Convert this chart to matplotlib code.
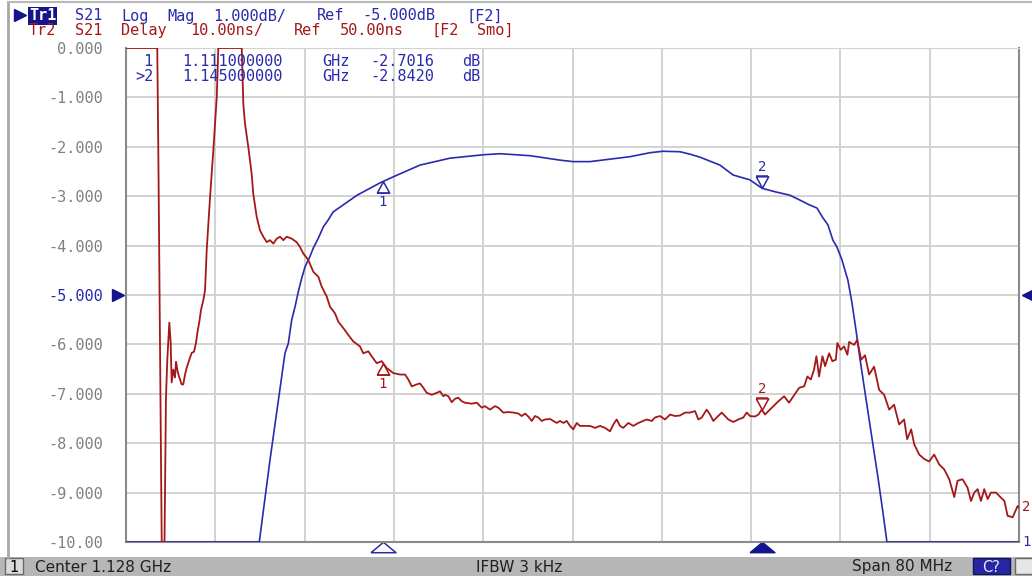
import numpy as np
import matplotlib
matplotlib.use('Agg')
import matplotlib.pyplot as plt
from matplotlib.lines import Line2D
from matplotlib.patches import Rectangle
import matplotlib.transforms as mtransforms

# ---- data (frequency in MHz) ----
# Tr1: S21 Log Mag [dB]
blue_freq = [1088.00, 1099.94, 1100.90, 1101.95, 1102.24, 1102.54, 1102.84, 1103.14, 1103.44, 1103.74,
             1104.04, 1104.48, 1104.78, 1105.23, 1105.68, 1106.12, 1106.55, 1108.70, 1110.76, 1111.92,
             1114.34, 1117.03, 1120.07, 1121.51, 1124.19, 1126.88, 1128.05, 1129.57, 1131.36, 1133.15,
             1134.94, 1136.11, 1137.63, 1138.53, 1139.42, 1141.21, 1142.38, 1143.90, 1144.98, 1146.14,
             1147.48, 1148.38, 1149.27, 1149.90, 1150.44, 1150.88, 1151.33, 1151.69, 1152.14, 1152.67,
             1153.03, 1153.39, 1153.76, 1154.29, 1154.83, 1155.37, 1155.81, 1156.17, 1168.00]
blue_db = [-10.0, -10.0, -8.34, -6.65, -6.18, -5.98, -5.51, -5.24, -4.93, -4.66,
           -4.43, -4.22, -4.05, -3.85, -3.62, -3.48, -3.32, -2.98, -2.73, -2.61,
           -2.37, -2.23, -2.16, -2.14, -2.18, -2.27, -2.30, -2.30, -2.25, -2.20,
           -2.12, -2.09, -2.10, -2.15, -2.21, -2.37, -2.57, -2.67, -2.84, -2.91,
           -2.98, -3.08, -3.18, -3.24, -3.44, -3.58, -3.89, -4.03, -4.29, -4.70,
           -5.15, -5.70, -6.30, -7.10, -7.90, -8.70, -9.40, -10.0, -10.0]

# Tr2: S21 Delay [ns] (screen clips at 0 and 100 ns)
red_freq = [1088.00, 1090.80, 1090.90, 1091.05, 1091.20, 1091.45, 1091.58, 1091.70, 1091.88, 1092.00,
            1092.09, 1092.24, 1092.39, 1092.48, 1092.63, 1092.78, 1092.99, 1093.13, 1093.29, 1093.44,
            1093.67, 1093.89, 1094.09, 1094.27, 1094.39, 1094.57, 1094.72, 1094.93, 1095.08, 1095.23,
            1095.53, 1095.82, 1096.13, 1096.27, 1098.37, 1098.51, 1098.66, 1098.96, 1099.26, 1099.40,
            1099.71, 1100.00, 1100.30, 1100.61, 1100.90, 1101.20, 1101.50, 1101.80, 1102.09, 1102.40,
            1102.84, 1103.29, 1103.59, 1103.88, 1104.33, 1104.78, 1105.23, 1105.53, 1105.98, 1106.28,
            1106.72, 1107.02, 1107.47, 1107.92, 1108.36, 1108.96, 1109.26, 1109.71, 1110.01, 1110.46,
            1110.91, 1111.36, 1111.95, 1112.55, 1113.00, 1113.29, 1113.60, 1114.04, 1114.34, 1114.64,
            1114.94, 1115.39, 1115.84, 1116.13, 1116.43, 1116.58, 1116.88, 1117.18, 1117.48, 1117.77,
            1118.07, 1118.37, 1118.97, 1119.42, 1119.87, 1120.16, 1120.61, 1121.06, 1121.35, 1121.80,
            1122.25, 1122.70, 1123.15, 1123.45, 1123.75, 1124.04, 1124.35, 1124.64, 1124.94, 1125.24,
            1125.54, 1125.99, 1126.28, 1126.59, 1126.88, 1127.18, 1127.48, 1127.78, 1128.07, 1128.38,
            1128.67, 1129.12, 1129.57, 1130.02, 1130.46, 1130.91, 1131.36, 1131.66, 1131.96, 1132.26,
            1132.55, 1133.00, 1133.45, 1133.90, 1134.34, 1134.65, 1135.10, 1135.39, 1135.84, 1136.29,
            1136.74, 1137.18, 1137.63, 1138.08, 1138.53, 1138.98, 1139.27, 1139.58, 1140.02, 1140.32,
            1140.62, 1140.92, 1141.37, 1141.66, 1141.96, 1142.41, 1142.86, 1143.30, 1143.61, 1143.90,
            1144.35, 1144.65, 1144.95, 1145.25, 1145.55, 1146.00, 1146.45, 1146.96, 1147.40, 1148.00,
            1148.30, 1148.75, 1149.04, 1149.35, 1149.64, 1149.85, 1150.09, 1150.39, 1150.63, 1150.99,
            1151.28, 1151.59, 1151.73, 1152.03, 1152.33, 1152.63, 1152.78, 1153.23, 1153.50, 1153.86,
            1154.21, 1154.57, 1155.02, 1155.47, 1155.92, 1156.37, 1156.81, 1157.26, 1157.71, 1157.98,
            1158.34, 1158.61, 1159.06, 1159.51, 1159.95, 1160.40, 1160.85, 1161.30, 1161.75, 1162.20,
            1162.49, 1162.94, 1163.39, 1163.70, 1163.99, 1164.29, 1164.59, 1164.89, 1165.19, 1165.49,
            1165.94, 1166.24, 1166.69, 1166.98, 1167.43, 1167.88, 1168.00]
red_ns = [100, 100, 78.0, 40.0, 0, 0, 29.2, 36.9, 44.4, 40.5,
          32.3, 34.9, 33.3, 36.5, 34.5, 33.3, 31.9, 31.9, 33.9, 35.3,
          36.9, 38.3, 38.5, 40.3, 42.3, 44.6, 47.0, 49.0, 51.0, 59.1,
          69.8, 79.2, 90.0, 100, 100, 88.7, 84.7, 79.9, 74.5, 70.5,
          65.8, 63.1, 61.8, 60.7, 61.1, 60.4, 61.4, 61.8, 61.1, 61.8,
          61.4, 60.7, 59.7, 58.4, 57.1, 54.7, 53.7, 51.7, 49.7, 47.6,
          46.3, 44.6, 43.3, 41.9, 40.6, 39.6, 38.2, 38.6, 37.6, 36.2,
          36.6, 35.2, 34.2, 33.9, 33.9, 32.9, 31.5, 31.9, 32.1, 31.2,
          30.2, 29.8, 30.2, 30.5, 29.5, 29.8, 29.5, 28.3, 29.0, 29.2,
          28.5, 28.2, 28.0, 28.2, 27.2, 27.5, 26.8, 27.5, 27.2, 26.2,
          26.3, 26.2, 26.0, 25.5, 26.0, 25.4, 24.5, 25.5, 25.2, 24.5,
          24.8, 24.9, 24.5, 24.1, 24.5, 24.1, 24.5, 23.5, 22.8, 24.1,
          23.5, 23.5, 23.5, 23.1, 23.5, 23.1, 22.4, 23.8, 24.8, 23.5,
          23.1, 24.1, 23.5, 24.1, 24.5, 24.8, 24.5, 25.2, 25.5, 24.8,
          25.8, 25.5, 25.6, 26.2, 26.2, 26.5, 24.8, 25.2, 26.8, 25.8,
          24.5, 25.2, 26.2, 25.5, 24.8, 24.3, 24.8, 25.2, 26.2, 25.5,
          25.4, 25.8, 26.8, 25.8, 26.5, 27.5, 28.5, 29.5, 28.2, 30.2,
          31.2, 31.5, 33.5, 32.9, 34.9, 37.6, 33.5, 37.6, 35.6, 38.2,
          36.6, 36.9, 40.3, 38.9, 39.6, 37.9, 40.5, 39.9, 40.9, 36.9,
          37.8, 33.9, 35.5, 30.8, 29.8, 26.8, 27.8, 23.8, 24.8, 20.8,
          22.8, 19.8, 17.7, 16.8, 16.3, 17.7, 15.7, 14.7, 12.7, 9.1,
          12.4, 12.7, 11.0, 8.3, 10.0, 10.7, 8.3, 10.7, 8.7, 10.0,
          10.0, 9.3, 8.3, 5.3, 5.0, 7.3, 7.0]

marker_freq = [1111.0, 1145.0]
marker_db = [-2.7016, -2.8420]

center_mhz = 1128
span_mhz = 80
ytick_vals = [0, -1, -2, -3, -4, -5, -6, -7, -8, -9, -10]
ytick_labels = ['0.000', '-1.000', '-2.000', '-3.000', '-4.000', '-5.000',
                '-6.000', '-7.000', '-8.000', '-9.000', '-10.00']

W, H = 1032, 577
BLUE = '#2a2aae'
NAVY = '#14148c'
RED = '#a51818'
GRAY = '#808080'
MONO = 'DejaVu Sans Mono'


def px(x, y):
    return x / W, 1 - y / H


fig = plt.figure(figsize=(W / 100, H / 100), dpi=100)
fig.patch.set_facecolor('white')

ax = fig.add_axes([126 / W, 35 / H, 893 / W, 494 / H])
ax.set_xlim(center_mhz - span_mhz / 2, center_mhz + span_mhz / 2)
ax.set_ylim(-10, 0)
ax.set_xticks(np.linspace(center_mhz - span_mhz / 2, center_mhz + span_mhz / 2, 11))
ax.set_yticks(ytick_vals)
ax.set_yticklabels(ytick_labels, family=MONO, fontsize=11, color=GRAY)
ax.get_yticklabels()[5].set_color(BLUE)
ax.tick_params(axis='both', length=0, labelbottom=False, pad=16.5)
ax.grid(True, color='#d2d2d2', lw=1.4)
ax.set_axisbelow(True)
for side in ['left', 'bottom', 'right']:
    ax.spines[side].set_color('#8a8a8a')
    ax.spines[side].set_linewidth(1.5)
ax.spines['top'].set_color('#d2d2d2')

ax2 = ax.twinx()
ax2.set_ylim(0, 100)
ax2.set_axis_off()

ax.plot(blue_freq, blue_db, color=BLUE, lw=1.2, zorder=3)
ax2.plot(red_freq, red_ns, color=RED, lw=1.3)

# markers
red_marker = np.interp(marker_freq, red_freq, red_ns)
tri_up = [(-0.55, -0.5), (0.55, -0.5), (0, 0.5), (-0.55, -0.5)]
tri_dn = [(-0.55, 0.5), (0.55, 0.5), (0, -0.5), (-0.55, 0.5)]


def draw_marker(axis, x, y, label, color, below):
    sgn = -1 if below else 1
    off = mtransforms.offset_copy(axis.transData, fig=fig, x=0, y=sgn * 6, units='dots')
    off2 = mtransforms.offset_copy(axis.transData, fig=fig, x=0, y=sgn * 12, units='dots')
    axis.plot([x], [y], marker=tri_up if below else tri_dn, ms=9, mfc='none', mec=color,
              mew=1.1, transform=off, clip_on=False, zorder=5)
    axis.plot([x], [y], marker='_', ms=9, mec=color, mew=1.1, transform=off2,
              clip_on=False, zorder=5)
    axis.annotate(label, xy=(x, y), xytext=(0, sgn * 14), textcoords='offset pixels',
                  ha='center', va='top' if below else 'bottom', color=color,
                  family=MONO, fontsize=10, zorder=5)


draw_marker(ax, marker_freq[0], marker_db[0], '1', BLUE, True)
draw_marker(ax, marker_freq[1], marker_db[1], '2', BLUE, False)
draw_marker(ax2, marker_freq[0], red_marker[0], '1', RED, True)
draw_marker(ax2, marker_freq[1], red_marker[1], '2', RED, False)

# marker indicators under the grid
flat_tri = [(-1.2, -0.5), (1.2, -0.5), (0, 0.5), (-1.2, -0.5)]
btrans = mtransforms.blended_transform_factory(ax.transData, ax.transAxes)
ax.plot([marker_freq[0]], [-0.0105], marker=flat_tri, ms=18, mfc='white', mec=BLUE,
        mew=1.1, transform=btrans, clip_on=False)
ax.plot([marker_freq[1]], [-0.0105], marker=flat_tri, ms=18, mfc=NAVY, mec=NAVY,
        transform=btrans, clip_on=False)

# reference level pointers
rtrans = mtransforms.blended_transform_factory(ax.transAxes, ax.transData)
ax.plot([-0.0084], [-5], marker='>', ms=9, color=NAVY, transform=rtrans, clip_on=False)
ax.plot([1.0101], [-5], marker='<', ms=9, color=NAVY, transform=rtrans, clip_on=False)

# trace end labels
ax2.annotate('2', xy=(ax2.get_xlim()[1], red_ns[-1]), xytext=(3, 0), textcoords='offset pixels',
             ha='left', va='center', color=RED, family=MONO, fontsize=10, annotation_clip=False)
ax.annotate('1', xy=(ax.get_xlim()[1], blue_db[-1]), xytext=(3, 0), textcoords='offset pixels',
            ha='left', va='center', color=BLUE, family=MONO, fontsize=10, annotation_clip=False)


def word_row(x0, y0, s, pitch, color, size=11):
    col = 0
    for word in s.split(' '):
        if word:
            fig.text(*px(x0 + col * pitch, y0), word, color=color, fontsize=size,
                     family=MONO, va='baseline', ha='left')
        col += len(word) + 1


# header
fig.add_artist(Line2D([px(20, 15)[0]], [px(20, 15)[1]], marker='>', ms=9, color=NAVY,
                      transform=fig.transFigure))
fig.text(*px(29, 20.5), 'Tr1', color='white', fontsize=11, family=MONO, fontweight='bold',
         va='baseline', ha='left', bbox=dict(fc=NAVY, ec='none', pad=0.8))
word_row(75, 20.5, 'S21 Log Mag 1.000dB/ Ref -5.000dB [F2]', 11.5, BLUE)
word_row(29, 35, 'Tr2 S21 Delay 10.00ns/ Ref 50.00ns [F2 Smo]', 11.5, RED)

# marker readout: one two-line text per column
readout_cols = [
    (135, ' 1\n>2'),
    (182, '%.9f\n%.9f' % (marker_freq[0] / 1000, marker_freq[1] / 1000)),
    (322, 'GHz\nGHz'),
    (370, '%.4f\n%.4f' % (marker_db[0], marker_db[1])),
    (462, 'dB\ndB'),
]
for xpos, txt in readout_cols:
    fig.text(*px(xpos, 54), txt, color=BLUE, fontsize=11, family=MONO, va='top', ha='left',
             linespacing=1.0)

# window frame
fig.add_artist(Line2D([8 / W, 8 / W], [1 - 2 / H, 1 - 557 / H], color='#a8a8a8', lw=2,
                      transform=fig.transFigure))
fig.add_artist(Line2D([8 / W, 1], [1 - 2 / H, 1 - 2 / H], color='#b8b8b8', lw=1.5,
                      transform=fig.transFigure))

# status bar
fig.add_artist(Rectangle((0, 1 / H), 1, 19 / H, transform=fig.transFigure,
                         fc='#b6b6b6', ec='none'))
fig.add_artist(Rectangle((5 / W, 3 / H), 18 / W, 16 / H, transform=fig.transFigure,
                         fc='#dadada', ec='#6a6a6a', lw=1))
fig.text(*px(14, 567), '1', fontsize=10.5, ha='center', va='center', color='black')
fig.text(*px(35, 567), 'Center %.3f GHz' % (center_mhz / 1000), fontsize=11,
         ha='left', va='center', color='#202020')
fig.text(*px(519, 567), 'IFBW 3 kHz', fontsize=11, ha='center', va='center', color='#202020')
fig.text(*px(852, 567), 'Span %d MHz' % span_mhz, fontsize=11, ha='left', va='center',
         color='#202020')
fig.add_artist(Rectangle((973 / W, 3 / H), 37 / W, 16 / H, transform=fig.transFigure,
                         fc='#2626a4', ec='#15155a', lw=1))
fig.text(*px(991, 567), 'C?', fontsize=10.5, ha='center', va='center', color='#e8e8ff')
fig.add_artist(Rectangle((1015 / W, 3 / H), 20 / W, 16 / H, transform=fig.transFigure,
                         fc='#e6e6e6', ec='#6a6a6a', lw=1))

fig.savefig('out.png', dpi=100)
